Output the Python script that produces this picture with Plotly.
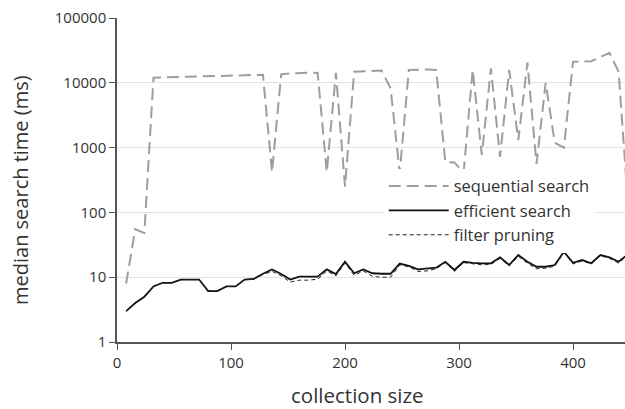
import plotly.graph_objects as go

collection_size = list(range(8, 449, 8))

sequential_search = [8, 55, 48, 12000, 12100, 12200, 12300, 12400, 12500, 12600, 12700,
                     12800, 12900, 13000, 13200, 13300, 420, 13500, 14000, 14300, 14300,
                     14200, 420, 14200, 250, 14800, 15100, 15300, 15500, 8200, 410, 15800,
                     16000, 16000, 15800, 600, 590, 410, 15800, 770, 16700, 720, 15800,
                     1300, 20500, 560, 10000, 1190, 1000, 21200, 21200, 21500, 25000,
                     29000, 14800, 150]

efficient_search = [3.0, 4.0, 5.0, 7.2, 8.2, 8.2, 9.2, 9.2, 9.2, 6.1, 6.1, 7.2, 7.2, 9.2,
                    9.4, 11.3, 13.2, 11.2, 9.2, 10.2, 10.2, 10.2, 13.2, 11.2, 17.3, 11.5,
                    13.2, 11.5, 11.3, 11.3, 16.2, 15.0, 13.2, 13.5, 14.0, 17.3, 12.9, 17.3,
                    16.6, 16.4, 16.4, 20.3, 15.4, 22.0, 17.3, 14.5, 14.5, 15.4, 24.7, 16.7,
                    18.4, 16.4, 22.0, 20.3, 17.3, 22.5]

filter_pruning = [3.0, 4.0, 5.0, 7.2, 8.2, 8.2, 9.2, 9.2, 9.2, 6.1, 6.1, 7.2, 7.2, 9.2,
                  9.3, 11.0, 12.3, 10.5, 8.4, 9.0, 9.0, 9.3, 12.5, 10.5, 16.5, 10.7,
                  12.5, 10.3, 10.0, 10.0, 15.5, 14.5, 12.3, 12.5, 13.5, 16.8, 12.3, 16.8,
                  16.0, 15.5, 15.8, 19.5, 15.0, 21.0, 16.5, 13.5, 13.8, 14.8, 24.0, 16.0,
                  17.8, 16.0, 21.5, 19.5, 16.5, 22.0]

y_ticks = [1, 10, 100, 1000, 10000, 100000]
x_ticks = [0, 100, 200, 300, 400]

fig = go.Figure()
fig.add_trace(go.Scatter(x=collection_size, y=sequential_search, mode="lines",
                         name="sequential search",
                         line=dict(color="#9e9e9e", width=2, dash="12px,6px")))
fig.add_trace(go.Scatter(x=collection_size, y=efficient_search, mode="lines",
                         name="efficient search",
                         line=dict(color="#111111", width=1.8)))
fig.add_trace(go.Scatter(x=collection_size, y=filter_pruning, mode="lines",
                         name="filter pruning",
                         line=dict(color="#222222", width=1, dash="4px,3px")))

fig.update_layout(
    width=625, height=409,
    margin=dict(l=117, r=0, t=18, b=67),
    paper_bgcolor="white", plot_bgcolor="white",
    font=dict(family="Open Sans", size=15, color="#333333"),
    showlegend=True,
    legend=dict(x=0.525, y=0.535, xanchor="left", yanchor="top",
                bgcolor="white", font=dict(size=16.5, color="#333333"),
                tracegroupgap=0, itemwidth=60),
    xaxis=dict(range=[0, 445.6], tickvals=x_ticks, ticktext=[str(v) for v in x_ticks],
               showgrid=False, zeroline=False, showline=True, linecolor="#555555",
               linewidth=1.5, ticks="outside", ticklen=6, tickcolor="#555555"),
    yaxis=dict(type="log", range=[0, 5], tickvals=y_ticks,
               ticktext=[str(v) for v in y_ticks],
               showgrid=True, gridcolor="#e3e3e3", gridwidth=1, zeroline=False,
               showline=True, linecolor="#555555", linewidth=1.5, ticks="outside",
               ticklen=6, tickcolor="#555555"),
    annotations=[
        dict(text="collection size", xref="paper", yref="paper", x=0.474, y=-0.164,
             xanchor="center", yanchor="middle", showarrow=False,
             font=dict(size=20.5, color="#333333")),
        dict(text="median search time (ms)", xref="paper", yref="paper", x=-0.191, y=0.469,
             xanchor="center", yanchor="middle", showarrow=False, textangle=-90,
             font=dict(size=20, color="#333333")),
    ],
)

fig.write_html("out.html", config={"displayModeBar": False},
               post_script="document.body.style.margin='0';document.body.style.overflow='hidden';")
